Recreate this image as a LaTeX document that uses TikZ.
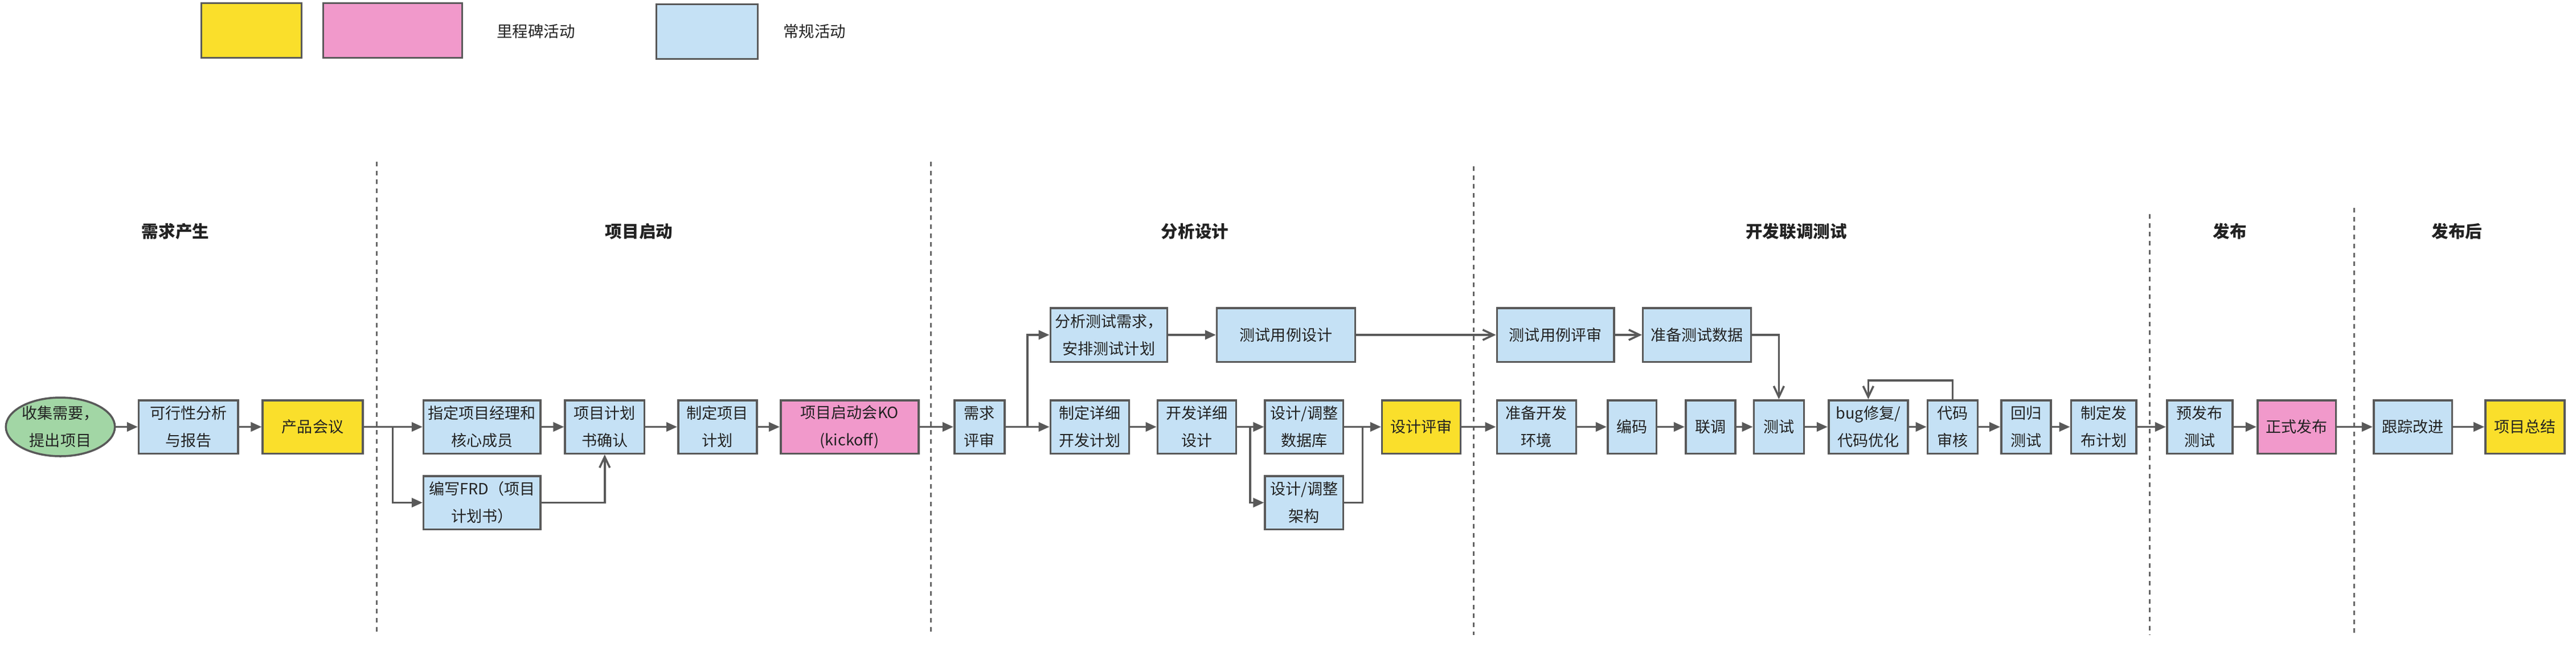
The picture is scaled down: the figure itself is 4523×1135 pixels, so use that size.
\documentclass[tikz,border=0pt]{standalone}
\usepackage{fontspec}
\setmainfont{Noto Sans CJK SC}
\usetikzlibrary{arrows.meta,shapes.geometric,calc}
\definecolor{bd}{HTML}{595959}
\definecolor{sepc}{HTML}{666666}
\definecolor{txt}{HTML}{222222}
\definecolor{cblue}{HTML}{C5E1F5}
\definecolor{cyellow}{HTML}{FADF2B}
\definecolor{cpink}{HTML}{F199CB}
\definecolor{cgreen}{HTML}{A2D6A5}
\begin{document}
\begin{tikzpicture}[x=0.01cm,y=-0.01cm,
  boxbase/.style={draw=bd,line width=1pt,align=center,inner sep=0pt,minimum height=0.935cm,
    text=txt,font=\fontsize{7.7pt}{13.6pt}\selectfont},
  act/.style={boxbase,fill=cblue},
  mileY/.style={boxbase,fill=cyellow},
  mileP/.style={boxbase,fill=cpink},
  startell/.style={boxbase,ellipse,fill=cgreen},
  head/.style={text=txt,font=\fontsize{8.4pt}{10pt}\selectfont\bfseries},
  legtext/.style={text=txt,font=\fontsize{7.8pt}{10pt}\selectfont},
  fa/.style={draw=bd,line width=1pt,-{Triangle[length=0.19cm,width=0.16cm]}},
  oa/.style={draw=bd,line width=1pt,-{Straight Barb[length=0.19cm,width=0.18cm]}},
  plain/.style={draw=bd,line width=1pt},
  sepline/.style={draw=sepc,line width=0.85pt,dash pattern=on 0.08cm off 0.077cm}
]
\useasboundingbox (0,0) rectangle (4523,1135);

% legend
\node[mileY,minimum width=1.755cm,minimum height=0.955cm] (ly) at (441.5,53.5) {};
\node[mileP,minimum width=2.435cm,minimum height=0.955cm] (lp) at (689.5,53.5) {};
\node[legtext] (lt1) at (941,55) {里程碑活动};
\node[act,minimum width=1.775cm,minimum height=0.955cm] (lb) at (1241.5,55.5) {};
\node[legtext] (lt2) at (1430,55) {常规活动};

% headings
\node[head] (h1) at (308,406) {需求产生};
\node[head] (h2) at (1122,406) {项目启动};
\node[head] (h3) at (2098,406) {分析设计};
\node[head] (h4) at (3154,406) {开发联调测试};
\node[head] (h5) at (3915,406) {发布};
\node[head] (h6) at (4314,406) {发布后};

% separators
\coordinate (s1a) at (661,284);  \coordinate (s1b) at (661,1115);
\coordinate (s2a) at (1634,284); \coordinate (s2b) at (1634,1115);
\coordinate (s3a) at (2587,292); \coordinate (s3b) at (2587,1115);
\coordinate (s4a) at (3774,376); \coordinate (s4b) at (3774,1115);
\coordinate (s5a) at (4133,365); \coordinate (s5b) at (4133,1115);
\draw[sepline] (s1a) -- (s1b);
\draw[sepline] (s2a) -- (s2b);
\draw[sepline] (s3a) -- (s3b);
\draw[sepline] (s4a) -- (s4b);
\draw[sepline] (s5a) -- (s5b);

% main row y = 749.5
\node[startell,minimum width=1.74cm] (c0) at (106,749.5) {收集需要，\\提出项目};
\node[act,minimum width=1.74cm] (n1) at (330.75,749.5) {可行性分析\\与报告};
\node[mileY,minimum width=1.754cm] (n2) at (549,749.5) {产品会议};
\node[act,minimum width=2.05cm] (n3) at (846.25,749.5) {指定项目经理和\\核心成员};
\node[act,minimum width=2.05cm] (n4) at (846.25,882.5) {编写FRD（项目\\计划书）};
\node[act,minimum width=1.39cm] (n5) at (1061.75,749.5) {项目计划\\书确认};
\node[act,minimum width=1.38cm] (n6) at (1259.8,749.5) {制定项目\\计划};
\node[mileP,minimum width=2.42cm] (n7) at (1491.85,749.5) {项目启动会KO\\(kickoff)};
\node[act,minimum width=0.88cm] (n8) at (1719.75,749.5) {需求\\评审};
\node[act,minimum width=2.048cm,minimum height=0.945cm] (n9) at (1946.85,588) {分析测试需求，\\安排测试计划};
\node[act,minimum width=1.382cm] (n10) at (1913.55,749.5) {制定详细\\开发计划};
\node[act,minimum width=1.378cm] (n11) at (2101.35,749.5) {开发详细\\设计};
\node[act,minimum width=2.425cm,minimum height=0.945cm] (n12) at (2258,588) {测试用例设计};
\node[act,minimum width=1.37cm] (n13) at (2289.75,749.5) {设计/调整\\数据库};
\node[act,minimum width=1.37cm] (n14) at (2289.75,882.5) {设计/调整\\架构};
\node[mileY,minimum width=1.375cm] (n15) at (2495.5,749.5) {设计评审};
\node[act,minimum width=2.055cm,minimum height=0.945cm] (n16) at (2731.1,588) {测试用例评审};
\node[act,minimum width=1.895cm,minimum height=0.945cm] (n17) at (2979.5,588) {准备测试数据};
\node[act,minimum width=1.39cm] (n18) at (2697.8,749.5) {准备开发\\环境};
\node[act,minimum width=0.855cm] (n19) at (2865.5,749.5) {编码};
\node[act,minimum width=0.87cm] (n20) at (3003.25,749.5) {联调};
\node[act,minimum width=0.878cm] (n21) at (3123.35,749.5) {测试};
\node[act,minimum width=1.392cm] (n22) at (3280.35,749.5) {bug修复/\\代码优化};
\node[act,minimum width=0.878cm] (n23) at (3428.35,749.5) {代码\\审核};
\node[act,minimum width=0.87cm] (n24) at (3557.25,749.5) {回归\\测试};
\node[act,minimum width=1.146cm] (n25) at (3693.65,749.5) {制定发\\布计划};
\node[act,minimum width=1.15cm] (n26) at (3862.25,749.5) {预发布\\测试};
\node[mileP,minimum width=1.375cm] (n27) at (4032.5,749.5) {正式发布};
\node[act,minimum width=1.375cm] (n28) at (4236.5,749.5) {跟踪改进};
\node[mileY,minimum width=1.39cm] (n29) at (4433.5,749.5) {项目总结};

% connectors
\draw[fa] (c0) -- (n1);
\draw[fa] (n1) -- (n2);
\draw[fa] (n2) -- (n3);
\draw[fa] (n2.east) -- ++(51,0) |- (n4.west);
\draw[fa] (n3) -- (n5);
\draw[oa] (n4.east) -| (n5.south);
\draw[fa] (n5) -- (n6);
\draw[fa] (n6) -- (n7);
\draw[fa] (n7) -- (n8);
\draw[fa] (n8) -- (n10);
\draw[fa] (n8.east) -- ++(38.5,0) |- (n9.west);
\draw[fa] (n9) -- (n12);
\draw[fa] (n10) -- (n11);
\draw[fa] (n11) -- (n13);
\draw[fa] (n11.east) -- ++(23,0) |- (n14.west);
\draw[fa] (n13) -- (n15);
\draw[plain] (n14.east) -| ($(n13.east)!0.5!(n15.west)$);
\draw[oa] (n12) -- (n16);
\draw[oa] (n16) -- (n17);
\draw[oa] (n17.east) -| (n21.north);
\draw[fa] (n15) -- (n18);
\draw[fa] (n18) -- (n19);
\draw[fa] (n19) -- (n20);
\draw[fa] (n20) -- (n21);
\draw[fa] (n21) -- (n22);
\draw[fa] (n22) -- (n23);
\draw[oa] (n23.north) -- ++(0,-33) -| (n22.north);
\draw[fa] (n23) -- (n24);
\draw[fa] (n24) -- (n25);
\draw[fa] (n25) -- (n26);
\draw[fa] (n26) -- (n27);
\draw[fa] (n27) -- (n28);
\draw[fa] (n28) -- (n29);
\end{tikzpicture}
\end{document}
